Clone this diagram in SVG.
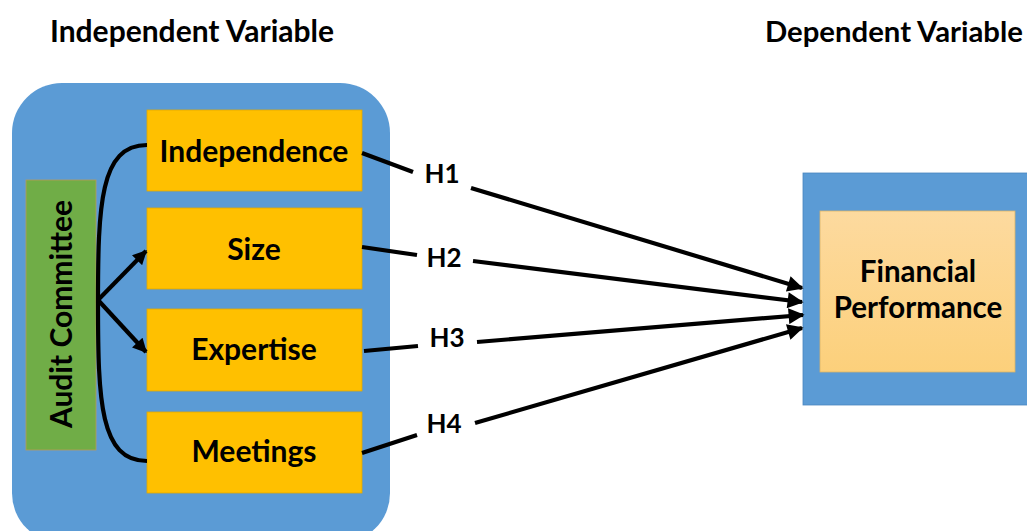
<svg xmlns="http://www.w3.org/2000/svg" width="1027" height="531" viewBox="0 0 1027 531">
  <style>
    .lbl { font-family: Lato, "Liberation Sans", sans-serif; font-weight: bold; fill: #000; }
    .title { font-size: 30px; }
    .title-right { font-size: 29.3px; }
    .box-text { font-size: 30px; text-anchor: middle; }
    .perf-text { font-size: 29.5px; text-anchor: middle; }
    .hyp { font-size: 26px; text-anchor: middle; }
    .var { fill: #FFC000; stroke: #E0A800; stroke-width: 0.8; }
    .link { fill: none; stroke: #000; stroke-width: 4.2; stroke-linecap: butt; }
  </style>
  <defs>
    <marker id="headSmall" viewBox="0 0 10 10" refX="9" refY="5" markerWidth="3.6" markerHeight="3.4" orient="auto" markerUnits="strokeWidth">
      <path d="M0,0 L10,5 L0,10 z" fill="#000"/>
    </marker>
    <marker id="headLarge" viewBox="0 0 10 10" refX="9" refY="5" markerWidth="5" markerHeight="3.8" orient="auto" markerUnits="strokeWidth">
      <path d="M0,0 L10,5 L0,10 z" fill="#000"/>
    </marker>
    <linearGradient id="perfFill" x1="0" y1="0" x2="0" y2="1">
      <stop offset="0" stop-color="#FDDA9F"/>
      <stop offset="1" stop-color="#FCD07B"/>
    </linearGradient>
  </defs>

  <rect width="1027" height="531" fill="#fff"/>

  <!-- headings -->
  <text class="lbl title" x="50" y="42">Independent Variable</text>
  <text class="lbl title-right" x="765" y="42">Dependent Variable</text>

  <!-- independent variable panel -->
  <g id="panel-independent">
    <rect x="12" y="83" width="378" height="460" rx="50" ry="50" fill="#5B9BD5"/>
  </g>

  <g id="node-audit-committee">
    <rect x="26" y="180" width="70" height="270" fill="#70AD47" stroke="#B89A5A" stroke-width="0.8"/>
    <text class="lbl box-text" transform="translate(72,314) rotate(-90)" x="0" y="0">Audit Committee</text>
  </g>

  <g id="node-independence">
    <rect class="var" x="147" y="110" width="215" height="81"/>
    <text class="lbl box-text" x="254" y="162">Independence</text>
  </g>
  <g id="node-size">
    <rect class="var" x="147" y="208" width="215" height="81"/>
    <text class="lbl box-text" x="254" y="260">Size</text>
  </g>
  <g id="node-expertise">
    <rect class="var" x="147" y="309" width="215" height="82"/>
    <text class="lbl box-text" x="254" y="360">Expertise</text>
  </g>
  <g id="node-meetings">
    <rect class="var" x="147" y="412" width="215" height="81"/>
    <text class="lbl box-text" x="254" y="462">Meetings</text>
  </g>

  <!-- dependent variable -->
  <g id="node-financial-performance">
    <rect x="803" y="173" width="240" height="232" fill="#5B9BD5" stroke="#4A86BE" stroke-width="0.8"/>
    <rect x="820" y="211" width="195" height="161" fill="url(#perfFill)" stroke="#D9B36A" stroke-width="0.8"/>
    <text class="lbl perf-text" x="918" y="282">Financial</text>
    <text class="lbl perf-text" x="918" y="318">Performance</text>
  </g>

  <!-- hypothesis labels -->
  <g id="labels-hypotheses">
    <text class="lbl hyp" x="442" y="183">H1</text>
    <text class="lbl hyp" x="444" y="267">H2</text>
    <text class="lbl hyp" x="447" y="347">H3</text>
    <text class="lbl hyp" x="444" y="433">H4</text>
  </g>

  <!-- connectors -->
  <g id="connectors">
    <!-- bracket joining the four dimensions -->
    <path class="link" d="M147,145 C100,145 98,205 98,303 C98,401 100,461 147,461"/>
    <path class="link" d="M98,300 L146,251" marker-end="url(#headSmall)"/>
    <path class="link" d="M98,300 L146,352" marker-end="url(#headSmall)"/>

    <!-- hypothesis paths, broken around labels -->
    <path class="link" d="M362,153 L413,172"/>
    <path class="link" d="M471,188 L802,288" marker-end="url(#headLarge)"/>
    <path class="link" d="M362,247 L417,255"/>
    <path class="link" d="M473,261 L802,302" marker-end="url(#headLarge)"/>
    <path class="link" d="M364,351 L418,346"/>
    <path class="link" d="M477,342 L803,315" marker-end="url(#headLarge)"/>
    <path class="link" d="M362,453 L417,435"/>
    <path class="link" d="M475,423 L802,328" marker-end="url(#headLarge)"/>
  </g>
</svg>
